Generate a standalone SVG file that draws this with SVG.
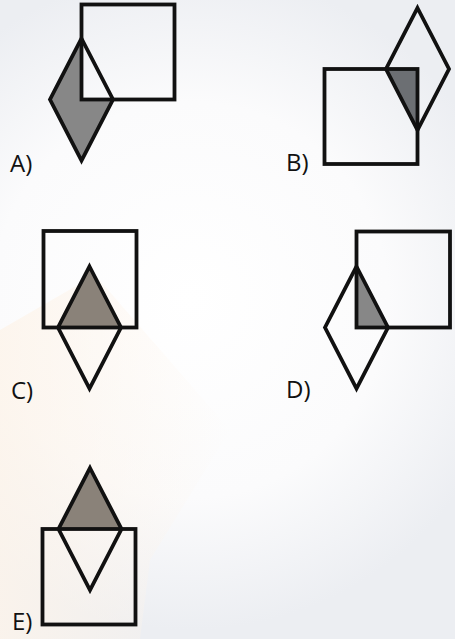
<svg xmlns="http://www.w3.org/2000/svg" width="455" height="639" viewBox="0 0 455 639">
<defs>
<radialGradient id="bg" cx="190" cy="300" r="330" gradientUnits="userSpaceOnUse">
<stop offset="0" stop-color="#ffffff"/>
<stop offset="0.6" stop-color="#fbfbfc"/>
<stop offset="1" stop-color="#eceef2"/>
</radialGradient>
<linearGradient id="peach" x1="0" y1="0" x2="1" y2="0">
<stop offset="0" stop-color="#fdf4ea" stop-opacity="0.8"/>
<stop offset="1" stop-color="#fdf4ea" stop-opacity="0"/>
</linearGradient>
</defs>
<style>
.sq{fill:none;stroke:#111;stroke-width:3.8}
.dm{fill:none;stroke:#111;stroke-width:3.8;stroke-linejoin:miter}
.g1{fill:#878787}
.g2{fill:#6c6f73}
.g3{fill:#8a8279}
.lbl{font-family:"Open Sans","Liberation Sans",sans-serif;font-size:24px;fill:#111}
</style>
<rect width="455" height="639" fill="url(#bg)"/>
<polygon points="0,330 95,275 230,430 150,560 140,639 0,639" fill="url(#peach)"/>
<g id="optA">
<polygon class="g1" points="81.5,38.5 81.5,99.5 113,99.5 81.5,160.5 50,99.5"/>
<polygon class="dm" points="81.5,38.5 113,99.5 81.5,160.5 50,99.5"/>
<rect class="sq" x="81.5" y="4.5" width="93" height="95"/>
<text class="lbl" x="10" y="172">A)</text>
</g>
<g id="optB">
<polygon class="g2" points="386,69 417.5,69 417.5,130"/>
<polygon class="dm" points="417.5,8 449,69 417.5,130 386,69"/>
<rect class="sq" x="324.5" y="69" width="93" height="95"/>
<text class="lbl" x="286" y="171">B)</text>
</g>
<g id="optC">
<polygon class="g3" points="89.5,266.5 121,327.5 58,327.5"/>
<polygon class="dm" points="89.5,266.5 121,327.5 89.5,388.5 58,327.5"/>
<rect class="sq" x="43.5" y="231" width="93" height="96.5"/>
<text class="lbl" x="11" y="399">C)</text>
</g>
<g id="optD">
<polygon class="g1" points="356.5,266.5 388,327.5 356.5,327.5"/>
<polygon class="dm" points="356.5,266.5 388,327.5 356.5,388.5 325,327.5"/>
<rect class="sq" x="356.5" y="231.5" width="93.5" height="96"/>
<text class="lbl" x="286" y="398">D)</text>
</g>
<g id="optE">
<polygon class="g3" points="90,468 121.5,529 58.5,529"/>
<polygon class="dm" points="90,468 121.5,529 90,590 58.5,529"/>
<rect class="sq" x="42.5" y="529" width="93" height="95.5"/>
<text class="lbl" x="12" y="630">E)</text>
</g>
<g id="connectors"/>
</svg>
